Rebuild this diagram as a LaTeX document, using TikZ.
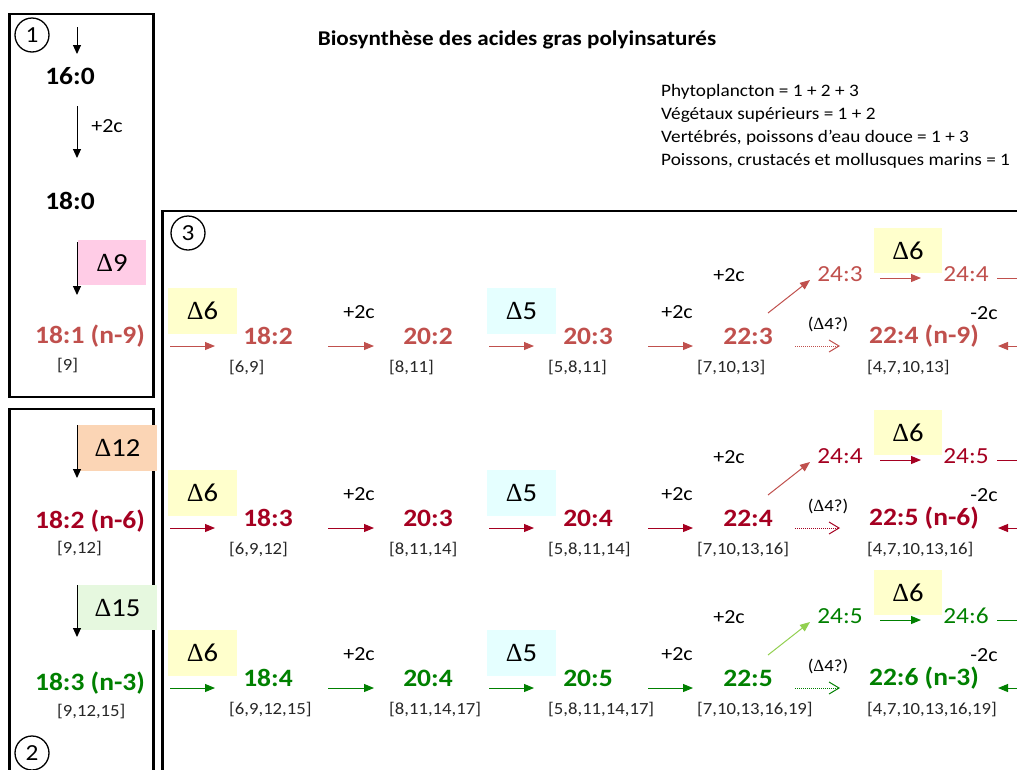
\documentclass[tikz,border=0pt]{standalone}
\usepackage{fontspec}
\setmainfont{Carlito}[FakeStretch=1.1]
\newfontfamily\deltafont{Liberation Serif}
\usetikzlibrary{arrows.meta}
\definecolor{rowA}{HTML}{C0504D}
\definecolor{rowB}{HTML}{A50021}
\definecolor{rowC}{HTML}{008000}
\definecolor{diagC}{HTML}{92D050}
\definecolor{pinkbg}{HTML}{FFCCE6}
\definecolor{peachbg}{HTML}{FBD5B5}
\definecolor{greenbg}{HTML}{E6F8DF}
\definecolor{cyanbg}{HTML}{E5FFFF}
\definecolor{yellowbg}{HTML}{FFFFCC}
\newcommand\deltasym{{\deltafont Δ}}
\tikzset{
  boxframe/.style={draw=black,line width=2.5pt},
  numcirc/.style={circle,draw=black,line width=1.3pt,minimum size=34pt,inner sep=0pt,font=\fontsize{23}{23}\selectfont},
  falab/.style={font=\fontsize{25}{25}\selectfont\bfseries,inner sep=0pt},
  uplab/.style={font=\fontsize{23}{23}\selectfont,inner sep=0pt},
  bracketlab/.style={font=\fontsize{17}{17}\selectfont,inner sep=0pt,anchor=west,text=black!85},
  pluslab/.style={font=\fontsize{20}{20}\selectfont,inner sep=0pt},
  qlab/.style={font=\fontsize{17}{17}\selectfont,inner sep=0pt},
  enz/.style={minimum width=69pt,minimum height=46pt,inner sep=0pt,font=\fontsize{26}{26}\selectfont},
  rowarr/.style={line width=1pt,-{Triangle[length=10pt,width=8pt]}},
  blkarr/.style={line width=1pt,black,-{Triangle[length=9pt,width=8pt]}},
  dotarr/.style={line width=1pt,densely dotted,-{Straight Barb[length=10pt,width=12pt]}},
  legend/.style={font=\fontsize{17.5}{17.5}\selectfont,inner sep=0pt,anchor=west},
}
\newcommand\pufarow[4]{%
  \node[enz,fill=yellowbg] (#1-d6a) at (202.5,#2-25) {\deltasym 6};
  \node[enz,fill=cyanbg] (#1-d5) at (521.5,#2-25) {\deltasym 5};
  \node[enz,fill=yellowbg,minimum width=68pt,minimum height=45pt] (#1-d6b) at (908,#2-85.5) {\deltasym 6};
  \node[falab,text=#3] (#1-n1) at (268,#2) {\ta};
  \node[falab,text=#3] (#1-n2) at (428,#2) {\tb};
  \node[falab,text=#3] (#1-n3) at (588,#2) {\tc};
  \node[falab,text=#3] (#1-n4) at (748,#2) {\td};
  \node[uplab,text=#3] (#1-n5) at (840,#2-62) {\te};
  \node[uplab,text=#3] (#1-n6) at (966,#2-62) {\tf};
  \node[falab,text=#3] (#1-n7) at (924,#2) {\tg};
  \node[bracketlab] (#1-b1) at (229,#2+32) {\ba};
  \node[bracketlab] (#1-b2) at (389,#2+32) {\bb};
  \node[bracketlab] (#1-b3) at (548,#2+32) {\bc};
  \node[bracketlab] (#1-b4) at (697,#2+32) {\bd};
  \node[bracketlab] (#1-b5) at (867,#2+32) {\be};
  \node[pluslab] (#1-p1) at (359,#2-24) {+2c};
  \node[pluslab] (#1-p2) at (677,#2-24) {+2c};
  \node[pluslab] (#1-p3) at (729,#2-61) {+2c};
  \node[pluslab] (#1-m) at (984,#2-23) {-2c};
  \node[qlab] (#1-q) at (828,#2-12) {(\deltasym 4?)};
  \coordinate (#1-a1s) at (170,#2+10); \coordinate (#1-a1e) at (215,#2+10);
  \coordinate (#1-a2s) at (328,#2+10); \coordinate (#1-a2e) at (374,#2+10);
  \coordinate (#1-a3s) at (489,#2+10); \coordinate (#1-a3e) at (534,#2+10);
  \coordinate (#1-a4s) at (648,#2+10); \coordinate (#1-a4e) at (693,#2+10);
  \coordinate (#1-dts) at (795,#2+10); \coordinate (#1-dte) at (840,#2+10);
  \coordinate (#1-dgs) at (768,#2-23); \coordinate (#1-dge) at (810,#2-56);
  \coordinate (#1-ups) at (880,#2-58); \coordinate (#1-upe) at (921,#2-58);
  \coordinate (#1-lns) at (997,#2-58); \coordinate (#1-lne) at (1030,#2-58);
  \coordinate (#1-lfs) at (1030,#2+10); \coordinate (#1-lfe) at (998,#2+10);
  \draw[rowarr,#3] (#1-a1s) -- (#1-a1e);
  \draw[rowarr,#3] (#1-a2s) -- (#1-a2e);
  \draw[rowarr,#3] (#1-a3s) -- (#1-a3e);
  \draw[rowarr,#3] (#1-a4s) -- (#1-a4e);
  \draw[dotarr,#3] (#1-dts) -- (#1-dte);
  \draw[rowarr,#4] (#1-dgs) -- (#1-dge);
  \draw[rowarr,#3] (#1-ups) -- (#1-upe);
  \draw[line width=1pt,#3] (#1-lns) -- (#1-lne);
  \draw[rowarr,#3] (#1-lfs) -- (#1-lfe);
}
\begin{document}
\begin{tikzpicture}[x=1pt,y=-1pt]
\useasboundingbox (0,0) rectangle (1017,769);
\fill[white] (0,0) rectangle (1017,769);
\clip (0,0) rectangle (1017,769);
% title and legend
\node[font=\fontsize{21}{21}\selectfont\bfseries,inner sep=0pt] (title) at (517,40) {Biosynthèse des acides gras polyinsaturés};
\node[legend] (lg1) at (661,92) {Phytoplancton = 1 + 2 + 3};
\node[legend] (lg2) at (661,115) {Végétaux supérieurs = 1 + 2};
\node[legend] (lg3) at (661,138) {Vertébrés, poissons d’eau douce = 1 + 3};
\node[legend] (lg4) at (661,161) {Poissons, crustacés et mollusques marins = 1};
% frames
\draw[boxframe] (9.5,14) rectangle (153.5,397);
\draw[boxframe] (9.5,409) rectangle (153.5,800);
\draw[boxframe] (162.5,211) rectangle (1040,800);
\node[numcirc] (c1) at (32,35) {1};
\node[numcirc] (c2) at (32,753) {2};
\node[numcirc] (c3) at (188,233) {3};
% box 1
\coordinate (k1s) at (77,27); \coordinate (k1e) at (77,54);
\node[falab] (p160) at (70,76) {16:0};
\coordinate (k2s) at (77,106); \coordinate (k2e) at (77,158);
\node[pluslab] (k2l) at (107,126) {+2c};
\node[falab] (p180) at (70,201) {18:0};
\node[enz,fill=pinkbg,minimum width=68pt,minimum height=45pt] (d9) at (112,262.5) {\deltasym 9};
\coordinate (k3s) at (77,242); \coordinate (k3e) at (77,295);
\node[falab,text=rowA] (p181) at (90,336) {18:1 (n-9)};
\node[bracketlab] (b181) at (57,366) {[9]};
\draw[blkarr] (k1s) -- (k1e);
\draw[blkarr] (k2s) -- (k2e);
\draw[blkarr] (k3s) -- (k3e);
% box 2
\node[enz,fill=peachbg,minimum width=79pt] (d12) at (117.5,448) {\deltasym 12};
\coordinate (k4s) at (77,425); \coordinate (k4e) at (77,478);
\node[falab,text=rowB] (p182) at (90,521) {18:2 (n-6)};
\node[bracketlab] (b182) at (57,549) {[9,12]};
\node[enz,fill=greenbg,minimum width=79pt,minimum height=45pt] (d15) at (117.5,607.5) {\deltasym 15};
\coordinate (k5s) at (77,585); \coordinate (k5e) at (77,637);
\node[falab,text=rowC] (p183) at (90,683) {18:3 (n-3)};
\node[bracketlab] (b183) at (57,712) {[9,12,15]};
\draw[blkarr] (k4s) -- (k4e);
\draw[blkarr] (k5s) -- (k5e);
% rows
\def\ta{18:2}\def\tb{20:2}\def\tc{20:3}\def\td{22:3}\def\te{24:3}\def\tf{24:4}\def\tg{22:4 (n-9)}%
\def\ba{[6,9]}\def\bb{[8,11]}\def\bc{[5,8,11]}\def\bd{[7,10,13]}\def\be{[4,7,10,13]}%
\pufarow{r1}{336}{rowA}{rowA}
\def\ta{18:3}\def\tb{20:3}\def\tc{20:4}\def\td{22:4}\def\te{24:4}\def\tf{24:5}\def\tg{22:5 (n-6)}%
\def\ba{[6,9,12]}\def\bb{[8,11,14]}\def\bc{[5,8,11,14]}\def\bd{[7,10,13,16]}\def\be{[4,7,10,13,16]}%
\pufarow{r2}{518}{rowB}{rowA}
\def\ta{18:4}\def\tb{20:4}\def\tc{20:5}\def\td{22:5}\def\te{24:5}\def\tf{24:6}\def\tg{22:6 (n-3)}%
\def\ba{[6,9,12,15]}\def\bb{[8,11,14,17]}\def\bc{[5,8,11,14,17]}\def\bd{[7,10,13,16,19]}\def\be{[4,7,10,13,16,19]}%
\pufarow{r3}{678}{rowC}{diagC}
\end{tikzpicture}
\end{document}
